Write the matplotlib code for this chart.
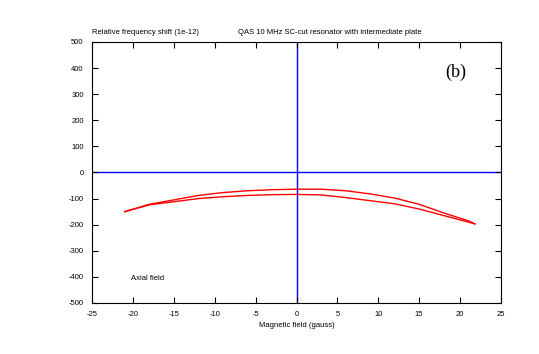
import matplotlib
matplotlib.use("Agg")
import matplotlib.pyplot as plt
import numpy as np

plt.rcParams["font.family"] = ["Liberation Sans", "DejaVu Sans"]
plt.rcParams["axes.unicode_minus"] = False

# ---- data ----
field_up = [-21.0, -18, -15, -12, -9, -6, -3, 0, 3, 6, 9, 12, 15, 18, 21, 21.8]
shift_up = [-150, -122, -105, -88, -77, -70, -66, -64, -64, -70, -82, -98, -122, -155, -185, -197]
field_down = [21.8, 21, 18, 15, 12, 9, 6, 3, 0, -3, -6, -9, -12, -15, -18, -21.0]
shift_down = [-197, -190, -165, -140, -120, -108, -96, -86, -84, -85, -88, -93, -100, -112, -124, -150]

xticks = np.arange(-25, 26, 5)
yticks = np.arange(-500, 501, 100)

fig = plt.figure(figsize=(5.39, 3.54), dpi=100)
ax = fig.add_axes([0.1707, 0.1441, 0.7588, 0.7373])

ax.axhline(0, color="blue", lw=1.0, zorder=1)
ax.axvline(0, color="blue", lw=1.0, zorder=1)
ax.plot(field_up, shift_up, color="red", lw=1.0, zorder=2)
ax.plot(field_down, shift_down, color="red", lw=1.0, zorder=2)

ax.set_xlim(-25, 25)
ax.set_ylim(-500, 500)
ax.set_xticks(xticks)
ax.set_yticks(yticks)
ax.tick_params(direction="in", length=4, width=0.8, top=True, right=True,
               labelsize=5.5, pad=6)
for s in ax.spines.values():
    s.set_linewidth(0.8)

ax.set_xlabel("Magnetic field (gauss)", fontsize=5.5, labelpad=3)
fig.text(92 / 539, 1 - 33 / 354, "Relative frequency shift (1e-12)",
         fontsize=5.5, ha="left", va="center")
fig.text(330 / 539, 1 - 33 / 354,
         "QAS 10 MHz SC-cut resonator with intermediate plate",
         fontsize=5.5, ha="center", va="center")
ax.text(-20.2, -405, "Axial field", fontsize=5.5, ha="left", va="center")
ax.text(19.5, 385, "(b)", fontsize=13, family="Liberation Serif",
        ha="center", va="center")

fig.savefig("out.png", dpi=100)
